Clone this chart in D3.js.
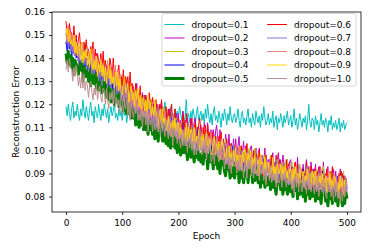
<!DOCTYPE html>
<html>
<head>
<meta charset="utf-8">
<script src="https://cdn.jsdelivr.net/npm/d3@7"></script>
<style>
  body { margin: 0; background: #fff; }
  svg text { font-family: "DejaVu Sans", sans-serif; font-size: 9px; fill: #000; }
</style>
</head>
<body>
<svg id="chart" width="373" height="250"></svg>
<script>
var epochs = [0,2,4,6,8,10,12,14,16,18,20,22,24,26,28,30,32,34,36,38,40,42,44,46,48,50,52,54,56,58,
  60,62,64,66,68,70,72,74,76,78,80,82,84,86,88,90,92,94,96,98,100,102,104,106,108,110,112,114,116,118,
  120,122,124,126,128,130,132,134,136,138,140,142,144,146,148,150,152,154,156,158,160,162,164,166,168,170,172,174,176,178,
  180,182,184,186,188,190,192,194,196,198,200,202,204,206,208,210,212,214,216,218,220,222,224,226,228,230,232,234,236,238,
  240,242,244,246,248,250,252,254,256,258,260,262,264,266,268,270,272,274,276,278,280,282,284,286,288,290,292,294,296,298,
  300,302,304,306,308,310,312,314,316,318,320,322,324,326,328,330,332,334,336,338,340,342,344,346,348,350,352,354,356,358,
  360,362,364,366,368,370,372,374,376,378,380,382,384,386,388,390,392,394,396,398,400,402,404,406,408,410,412,414,416,418,
  420,422,424,426,428,430,432,434,436,438,440,442,444,446,448,450,452,454,456,458,460,462,464,466,468,470,472,474,476,478,
  480,482,484,486,488,490,492,494,496,498,500]

var labels = ['dropout=0.1', 'dropout=0.2', 'dropout=0.3', 'dropout=0.4', 'dropout=0.5',
  'dropout=0.6', 'dropout=0.7', 'dropout=0.8', 'dropout=0.9', 'dropout=1.0']
var colors = ['#00bfbf', '#bf00bf', '#bfbf00', '#0000ff', '#008000',
  '#ff0000', '#9370db', '#f08080', '#ffd700', '#bc8f8f']

var xTicks = [0, 100, 200, 300, 400, 500]
var yTicks = [0.08, 0.09, 0.10, 0.11, 0.12, 0.13, 0.14, 0.15, 0.16]

// reconstruction error, every 2nd epoch, one array per dropout rate
var d01 = [0.119,0.115,0.120,0.116,0.113,0.118,0.121,0.114,0.117,0.115,
  0.120,0.116,0.113,0.118,0.115,0.122,0.117,0.114,0.119,0.116,
  0.113,0.118,0.121,0.115,0.117,0.112,0.119,0.116,0.114,0.120,
  0.116,0.113,0.118,0.115,0.120,0.117,0.114,0.118,0.112,0.116,
  0.119,0.115,0.117,0.121,0.114,0.116,0.113,0.118,0.115,0.117,
  0.113,0.119,0.115,0.117,0.112,0.116,0.120,0.114,0.118,0.115,
  0.117,0.113,0.116,0.119,0.114,0.121,0.115,0.117,0.112,0.116,
  0.119,0.114,0.116,0.113,0.118,0.115,0.120,0.116,0.113,0.117,
  0.115,0.118,0.112,0.116,0.119,0.114,0.117,0.115,0.121,0.116,
  0.113,0.117,0.115,0.119,0.114,0.116,0.112,0.118,0.115,0.117,
  0.114,0.119,0.116,0.113,0.117,0.112,0.115,0.122,0.114,0.116,
  0.112,0.117,0.114,0.118,0.115,0.111,0.116,0.119,0.113,0.115,
  0.117,0.113,0.116,0.112,0.118,0.114,0.120,0.115,0.112,0.116,
  0.111,0.116,0.119,0.113,0.115,0.112,0.117,0.114,0.110,0.116,
  0.113,0.118,0.115,0.111,0.116,0.113,0.119,0.114,0.112,0.115,
  0.116,0.112,0.114,0.118,0.113,0.110,0.115,0.117,0.112,0.114,
  0.111,0.115,0.118,0.112,0.114,0.110,0.116,0.113,0.111,0.117,
  0.114,0.112,0.115,0.110,0.116,0.113,0.119,0.114,0.111,0.113,
  0.116,0.111,0.114,0.112,0.117,0.110,0.113,0.115,0.109,0.114,
  0.112,0.116,0.113,0.110,0.115,0.112,0.114,0.117,0.111,0.113,
  0.115,0.110,0.113,0.118,0.111,0.114,0.109,0.112,0.116,0.113,
  0.110,0.114,0.112,0.115,0.109,0.113,0.120,0.112,0.110,0.114,
  0.113,0.109,0.115,0.111,0.113,0.108,0.112,0.116,0.111,0.113,
  0.110,0.114,0.112,0.108,0.113,0.111,0.115,0.109,0.112,0.110,
  0.113,0.109,0.111,0.114,0.108,0.112,0.110,0.113,0.109,0.111,0.112]
var d02 = [0.151,0.146,0.154,0.148,0.145,0.149,0.144,0.147,0.141,0.150,
  0.141,0.147,0.139,0.144,0.146,0.136,0.143,0.146,0.140,0.138,
  0.142,0.138,0.134,0.143,0.139,0.139,0.133,0.142,0.135,0.138,
  0.132,0.140,0.136,0.131,0.137,0.132,0.137,0.128,0.136,0.133,
  0.135,0.129,0.126,0.134,0.132,0.126,0.134,0.129,0.125,0.131,
  0.123,0.129,0.132,0.126,0.124,0.129,0.123,0.126,0.120,0.128,
  0.124,0.119,0.126,0.129,0.121,0.116,0.123,0.120,0.125,0.118,
  0.124,0.117,0.115,0.121,0.119,0.121,0.113,0.122,0.117,0.120,
  0.113,0.120,0.117,0.111,0.119,0.121,0.113,0.111,0.117,0.114,
  0.115,0.110,0.118,0.112,0.109,0.115,0.112,0.107,0.116,0.113,
  0.116,0.109,0.113,0.107,0.117,0.109,0.113,0.105,0.114,0.110,
  0.106,0.114,0.110,0.105,0.112,0.114,0.106,0.110,0.103,0.109,
  0.111,0.106,0.103,0.112,0.109,0.103,0.112,0.106,0.102,0.109,
  0.103,0.109,0.100,0.108,0.111,0.105,0.101,0.109,0.102,0.104,
  0.105,0.098,0.107,0.103,0.100,0.107,0.098,0.103,0.096,0.105,
  0.099,0.105,0.097,0.102,0.106,0.095,0.102,0.099,0.104,0.097,
  0.102,0.096,0.099,0.093,0.101,0.102,0.094,0.099,0.096,0.101,
  0.093,0.098,0.101,0.092,0.097,0.098,0.093,0.101,0.090,0.095,
  0.096,0.090,0.098,0.093,0.099,0.090,0.094,0.088,0.096,0.099,
  0.091,0.096,0.089,0.098,0.093,0.094,0.087,0.096,0.091,0.095,
  0.096,0.088,0.092,0.089,0.095,0.087,0.097,0.090,0.093,0.088,
  0.089,0.094,0.086,0.092,0.096,0.088,0.093,0.085,0.095,0.090,
  0.092,0.087,0.094,0.085,0.090,0.093,0.086,0.091,0.084,0.095,
  0.085,0.090,0.087,0.093,0.084,0.091,0.088,0.083,0.092,0.086,
  0.091,0.084,0.088,0.083,0.092,0.085,0.090,0.082,0.089,0.087,0.086]
var d03 = [0.146,0.152,0.147,0.151,0.144,0.147,0.142,0.150,0.143,0.145,
  0.145,0.140,0.137,0.144,0.146,0.139,0.143,0.136,0.141,0.137,
  0.135,0.139,0.142,0.136,0.133,0.139,0.136,0.132,0.140,0.135,
  0.136,0.130,0.137,0.133,0.139,0.129,0.133,0.127,0.134,0.136,
  0.129,0.133,0.126,0.134,0.128,0.129,0.123,0.131,0.126,0.133,
  0.129,0.123,0.127,0.121,0.130,0.122,0.126,0.120,0.129,0.123,
  0.118,0.124,0.127,0.120,0.122,0.123,0.115,0.121,0.124,0.117,
  0.119,0.115,0.122,0.113,0.120,0.116,0.122,0.113,0.119,0.115,
  0.119,0.113,0.110,0.118,0.116,0.110,0.116,0.119,0.111,0.114,
  0.109,0.117,0.111,0.114,0.107,0.115,0.109,0.112,0.107,0.114,
  0.111,0.105,0.112,0.107,0.114,0.105,0.108,0.112,0.103,0.109,
  0.105,0.111,0.102,0.108,0.110,0.105,0.111,0.103,0.108,0.102,
  0.108,0.102,0.107,0.101,0.110,0.105,0.102,0.108,0.099,0.104,
  0.099,0.104,0.107,0.101,0.105,0.097,0.105,0.101,0.107,0.099,
  0.102,0.097,0.105,0.099,0.096,0.102,0.097,0.100,0.094,0.103,
  0.096,0.102,0.094,0.100,0.098,0.102,0.094,0.100,0.096,0.092,
  0.100,0.096,0.092,0.101,0.098,0.093,0.098,0.092,0.101,0.096,
  0.092,0.099,0.096,0.091,0.098,0.096,0.089,0.098,0.093,0.092,
  0.094,0.091,0.098,0.090,0.095,0.088,0.095,0.091,0.096,0.087,
  0.096,0.089,0.091,0.095,0.087,0.093,0.089,0.096,0.087,0.092,
  0.088,0.095,0.087,0.091,0.093,0.086,0.092,0.089,0.094,0.085,
  0.092,0.085,0.091,0.088,0.094,0.086,0.090,0.093,0.084,0.091,
  0.087,0.091,0.084,0.092,0.086,0.089,0.083,0.091,0.086,0.093,
  0.089,0.084,0.092,0.083,0.088,0.085,0.091,0.086,0.090,0.082,
  0.083,0.088,0.085,0.090,0.082,0.089,0.084,0.091,0.083,0.087,0.085]
var d04 = [0.147,0.143,0.150,0.144,0.148,0.139,0.146,0.142,0.148,0.140,
  0.143,0.139,0.136,0.142,0.145,0.136,0.139,0.133,0.141,0.138,
  0.134,0.140,0.135,0.131,0.139,0.136,0.131,0.138,0.130,0.135,
  0.136,0.129,0.134,0.132,0.127,0.133,0.129,0.135,0.126,0.128,
  0.127,0.131,0.124,0.133,0.126,0.127,0.121,0.128,0.130,0.123,
  0.126,0.120,0.127,0.123,0.128,0.119,0.127,0.120,0.122,0.117,
  0.117,0.121,0.125,0.118,0.116,0.121,0.118,0.113,0.120,0.122,
  0.118,0.111,0.117,0.120,0.114,0.111,0.118,0.114,0.120,0.112,
  0.112,0.117,0.110,0.115,0.108,0.113,0.110,0.117,0.108,0.115,
  0.113,0.108,0.110,0.105,0.114,0.106,0.111,0.108,0.113,0.103,
  0.108,0.103,0.110,0.105,0.112,0.101,0.108,0.105,0.109,0.103,
  0.103,0.108,0.100,0.109,0.105,0.106,0.100,0.109,0.103,0.101,
  0.107,0.102,0.099,0.105,0.097,0.105,0.100,0.103,0.097,0.106,
  0.098,0.103,0.106,0.097,0.102,0.098,0.104,0.095,0.103,0.099,
  0.100,0.093,0.101,0.097,0.102,0.093,0.098,0.095,0.102,0.091,
  0.095,0.100,0.093,0.098,0.091,0.098,0.091,0.096,0.093,0.099,
  0.098,0.093,0.089,0.096,0.099,0.091,0.096,0.089,0.098,0.094,
  0.089,0.095,0.096,0.088,0.094,0.096,0.090,0.086,0.095,0.091,
  0.093,0.088,0.095,0.090,0.086,0.091,0.095,0.086,0.092,0.088,
  0.088,0.094,0.084,0.093,0.091,0.086,0.091,0.084,0.093,0.089,
  0.091,0.084,0.090,0.087,0.082,0.092,0.086,0.089,0.083,0.091,
  0.086,0.092,0.084,0.089,0.082,0.088,0.083,0.091,0.085,0.081,
  0.088,0.083,0.090,0.080,0.087,0.084,0.089,0.082,0.091,0.085,
  0.081,0.088,0.084,0.087,0.080,0.089,0.083,0.086,0.079,0.088,
  0.086,0.081,0.089,0.080,0.083,0.087,0.079,0.085,0.082,0.088,0.083]
var d05 = [0.142,0.138,0.143,0.137,0.141,0.136,0.140,0.133,0.139,0.137,
  0.137,0.133,0.138,0.135,0.139,0.130,0.136,0.134,0.132,0.137,
  0.130,0.135,0.128,0.133,0.134,0.129,0.133,0.127,0.132,0.126,
  0.131,0.127,0.125,0.130,0.126,0.130,0.123,0.127,0.122,0.128,
  0.121,0.126,0.125,0.120,0.127,0.121,0.124,0.119,0.125,0.120,
  0.122,0.117,0.124,0.119,0.116,0.121,0.116,0.119,0.114,0.120,
  0.114,0.118,0.111,0.117,0.115,0.110,0.117,0.111,0.114,0.109,
  0.114,0.109,0.112,0.107,0.113,0.109,0.113,0.107,0.112,0.105,
  0.106,0.110,0.104,0.111,0.107,0.109,0.104,0.111,0.105,0.103,
  0.108,0.102,0.106,0.101,0.107,0.102,0.108,0.101,0.105,0.099,
  0.101,0.105,0.098,0.104,0.099,0.104,0.099,0.102,0.096,0.103,
  0.102,0.097,0.103,0.099,0.095,0.100,0.097,0.103,0.096,0.098,
  0.095,0.099,0.094,0.101,0.097,0.099,0.092,0.098,0.095,0.100,
  0.097,0.092,0.098,0.094,0.099,0.092,0.096,0.090,0.097,0.094,
  0.095,0.091,0.089,0.094,0.092,0.095,0.088,0.093,0.089,0.094,
  0.088,0.093,0.090,0.094,0.086,0.091,0.088,0.093,0.086,0.090,
  0.089,0.092,0.086,0.093,0.090,0.093,0.086,0.090,0.087,0.092,
  0.090,0.086,0.091,0.084,0.089,0.086,0.091,0.084,0.089,0.085,
  0.086,0.089,0.083,0.088,0.084,0.089,0.084,0.081,0.088,0.086,
  0.088,0.083,0.086,0.081,0.087,0.083,0.088,0.081,0.086,0.084,
  0.082,0.086,0.080,0.085,0.083,0.087,0.079,0.084,0.081,0.086,
  0.084,0.080,0.085,0.078,0.083,0.081,0.086,0.079,0.084,0.080,
  0.081,0.084,0.078,0.083,0.079,0.085,0.080,0.077,0.084,0.082,
  0.083,0.078,0.081,0.076,0.082,0.079,0.084,0.077,0.082,0.080,
  0.078,0.082,0.076,0.081,0.079,0.083,0.076,0.080,0.077,0.082,0.079]
var d06 = [0.156,0.150,0.148,0.155,0.151,0.151,0.145,0.154,0.147,0.150,
  0.143,0.148,0.151,0.144,0.147,0.140,0.147,0.143,0.148,0.141,
  0.144,0.138,0.145,0.142,0.147,0.138,0.144,0.135,0.142,0.139,
  0.137,0.142,0.135,0.143,0.134,0.139,0.134,0.137,0.131,0.140,
  0.137,0.131,0.140,0.132,0.135,0.128,0.134,0.137,0.129,0.132,
  0.128,0.135,0.126,0.132,0.129,0.132,0.125,0.134,0.126,0.129,
  0.127,0.122,0.129,0.120,0.125,0.121,0.128,0.119,0.124,0.117,
  0.117,0.124,0.121,0.115,0.125,0.121,0.117,0.123,0.115,0.119,
  0.122,0.116,0.113,0.120,0.115,0.122,0.113,0.117,0.111,0.119,
  0.112,0.118,0.109,0.116,0.120,0.110,0.114,0.118,0.109,0.113,
  0.114,0.108,0.112,0.107,0.116,0.112,0.105,0.116,0.108,0.109,
  0.105,0.111,0.114,0.106,0.109,0.112,0.106,0.103,0.111,0.114,
  0.108,0.102,0.110,0.105,0.111,0.102,0.111,0.105,0.108,0.103,
  0.108,0.101,0.099,0.106,0.104,0.099,0.106,0.101,0.108,0.097,
  0.099,0.103,0.097,0.105,0.096,0.101,0.097,0.103,0.094,0.100,
  0.102,0.096,0.099,0.093,0.101,0.094,0.102,0.096,0.099,0.093,
  0.095,0.103,0.094,0.098,0.093,0.099,0.095,0.100,0.091,0.098,
  0.097,0.091,0.100,0.094,0.098,0.089,0.096,0.092,0.098,0.091,
  0.090,0.096,0.092,0.098,0.089,0.093,0.090,0.098,0.088,0.094,
  0.096,0.090,0.093,0.087,0.094,0.088,0.096,0.090,0.094,0.087,
  0.089,0.093,0.086,0.092,0.095,0.088,0.094,0.085,0.091,0.087,
  0.092,0.086,0.090,0.087,0.095,0.085,0.091,0.088,0.093,0.084,
  0.086,0.092,0.084,0.089,0.091,0.085,0.093,0.087,0.090,0.084,
  0.089,0.084,0.092,0.086,0.083,0.090,0.085,0.093,0.084,0.088,
  0.083,0.088,0.085,0.090,0.082,0.091,0.084,0.089,0.081,0.087,0.087]
var d07 = [0.146,0.150,0.144,0.149,0.143,0.148,0.142,0.145,0.141,0.147,
  0.143,0.137,0.145,0.140,0.138,0.142,0.137,0.144,0.135,0.139,
  0.134,0.138,0.140,0.133,0.139,0.133,0.139,0.134,0.138,0.130,
  0.137,0.131,0.128,0.134,0.136,0.130,0.133,0.127,0.136,0.128,
  0.127,0.132,0.130,0.125,0.134,0.124,0.128,0.125,0.131,0.122,
  0.126,0.121,0.128,0.123,0.129,0.118,0.125,0.122,0.126,0.120,
  0.118,0.123,0.116,0.125,0.122,0.122,0.115,0.121,0.118,0.124,
  0.119,0.114,0.118,0.112,0.121,0.114,0.119,0.112,0.118,0.115,
  0.110,0.117,0.119,0.112,0.113,0.115,0.108,0.114,0.117,0.110,
  0.112,0.109,0.107,0.114,0.108,0.115,0.109,0.112,0.105,0.113,
  0.106,0.112,0.105,0.109,0.103,0.109,0.103,0.110,0.106,0.112,
  0.109,0.105,0.102,0.111,0.104,0.102,0.106,0.100,0.107,0.109,
  0.100,0.106,0.105,0.101,0.107,0.098,0.107,0.101,0.104,0.102,
  0.105,0.099,0.107,0.101,0.098,0.103,0.099,0.096,0.105,0.101,
  0.098,0.103,0.096,0.101,0.094,0.101,0.094,0.099,0.096,0.103,
  0.099,0.095,0.092,0.100,0.098,0.093,0.100,0.095,0.098,0.092,
  0.093,0.098,0.100,0.092,0.097,0.094,0.098,0.090,0.097,0.093,
  0.097,0.093,0.090,0.096,0.091,0.097,0.091,0.094,0.088,0.096,
  0.090,0.096,0.089,0.093,0.087,0.093,0.087,0.096,0.090,0.088,
  0.092,0.088,0.094,0.089,0.095,0.086,0.092,0.089,0.093,0.085,
  0.086,0.091,0.084,0.093,0.089,0.091,0.086,0.093,0.087,0.090,
  0.091,0.084,0.089,0.086,0.093,0.085,0.090,0.083,0.091,0.087,
  0.086,0.090,0.083,0.089,0.084,0.091,0.085,0.088,0.082,0.089,
  0.088,0.081,0.089,0.085,0.090,0.083,0.087,0.082,0.089,0.084,
  0.083,0.088,0.081,0.086,0.084,0.089,0.082,0.087,0.080,0.088,0.084]
var d08 = [0.153,0.148,0.154,0.147,0.151,0.146,0.149,0.143,0.150,0.145,
  0.142,0.147,0.140,0.146,0.143,0.146,0.139,0.143,0.140,0.145,
  0.142,0.137,0.141,0.135,0.144,0.136,0.141,0.134,0.140,0.137,
  0.133,0.140,0.135,0.138,0.132,0.137,0.132,0.139,0.131,0.135,
  0.133,0.129,0.135,0.130,0.137,0.126,0.132,0.129,0.133,0.127,
  0.128,0.123,0.121,0.129,0.124,0.125,0.120,0.124,0.118,0.126,
  0.119,0.125,0.118,0.122,0.116,0.122,0.118,0.123,0.115,0.121,
  0.121,0.114,0.119,0.116,0.113,0.117,0.114,0.121,0.113,0.119,
  0.113,0.117,0.109,0.116,0.118,0.110,0.114,0.111,0.117,0.109,
  0.113,0.107,0.114,0.109,0.112,0.115,0.107,0.109,0.112,0.105,
  0.105,0.110,0.112,0.104,0.109,0.105,0.110,0.102,0.108,0.111,
  0.109,0.105,0.102,0.108,0.103,0.109,0.103,0.106,0.100,0.107,
  0.102,0.108,0.101,0.105,0.099,0.105,0.099,0.106,0.102,0.108,
  0.103,0.099,0.105,0.100,0.106,0.097,0.103,0.100,0.104,0.096,
  0.096,0.101,0.094,0.103,0.099,0.100,0.095,0.102,0.096,0.099,
  0.100,0.093,0.098,0.095,0.102,0.093,0.098,0.091,0.099,0.095,
  0.095,0.099,0.092,0.098,0.093,0.099,0.093,0.096,0.090,0.097,
  0.096,0.089,0.097,0.093,0.098,0.090,0.094,0.089,0.096,0.091,
  0.090,0.095,0.088,0.093,0.091,0.095,0.088,0.093,0.086,0.094,
  0.094,0.089,0.095,0.088,0.092,0.089,0.092,0.086,0.093,0.088,
  0.087,0.092,0.085,0.091,0.088,0.093,0.086,0.090,0.087,0.092,
  0.090,0.085,0.089,0.083,0.092,0.086,0.091,0.084,0.090,0.087,
  0.084,0.091,0.086,0.089,0.083,0.090,0.085,0.092,0.084,0.088,
  0.087,0.083,0.089,0.084,0.091,0.082,0.088,0.085,0.089,0.083,
  0.088,0.083,0.081,0.089,0.084,0.087,0.082,0.086,0.080,0.088,0.084]
var d09 = [0.150,0.153,0.147,0.152,0.146,0.148,0.145,0.150,0.142,0.147,
  0.141,0.146,0.144,0.139,0.147,0.138,0.143,0.140,0.144,0.137,
  0.142,0.136,0.144,0.138,0.135,0.139,0.135,0.141,0.132,0.138,
  0.134,0.139,0.132,0.137,0.130,0.136,0.129,0.134,0.137,0.131,
  0.135,0.129,0.132,0.127,0.134,0.128,0.134,0.126,0.131,0.125,
  0.124,0.129,0.132,0.125,0.126,0.129,0.121,0.126,0.128,0.122,
  0.125,0.119,0.126,0.122,0.127,0.119,0.124,0.116,0.122,0.123,
  0.117,0.122,0.115,0.124,0.118,0.121,0.115,0.119,0.114,0.122,
  0.117,0.113,0.110,0.116,0.118,0.110,0.118,0.111,0.114,0.109,
  0.109,0.115,0.108,0.112,0.106,0.113,0.109,0.114,0.106,0.112,
  0.112,0.105,0.110,0.107,0.104,0.108,0.105,0.112,0.104,0.110,
  0.105,0.109,0.101,0.108,0.110,0.102,0.106,0.103,0.109,0.101,
  0.106,0.100,0.107,0.102,0.105,0.108,0.100,0.102,0.105,0.098,
  0.099,0.104,0.106,0.098,0.103,0.099,0.104,0.096,0.102,0.105,
  0.102,0.098,0.095,0.101,0.096,0.102,0.096,0.099,0.093,0.100,
  0.095,0.101,0.094,0.098,0.092,0.098,0.092,0.099,0.095,0.101,
  0.097,0.093,0.099,0.094,0.100,0.091,0.097,0.094,0.098,0.090,
  0.091,0.096,0.089,0.098,0.094,0.095,0.090,0.097,0.091,0.094,
  0.095,0.088,0.093,0.090,0.097,0.088,0.093,0.086,0.094,0.090,
  0.090,0.094,0.087,0.093,0.088,0.094,0.088,0.091,0.085,0.092,
  0.091,0.084,0.092,0.088,0.093,0.086,0.090,0.085,0.092,0.087,
  0.086,0.091,0.084,0.089,0.087,0.092,0.085,0.090,0.083,0.091,
  0.090,0.085,0.091,0.084,0.088,0.086,0.089,0.083,0.090,0.085,
  0.084,0.089,0.082,0.088,0.085,0.090,0.083,0.087,0.084,0.089,
  0.087,0.082,0.086,0.080,0.089,0.083,0.088,0.081,0.087,0.084,0.085]
var d10 = [0.135,0.139,0.134,0.140,0.136,0.135,0.130,0.136,0.132,0.137,
  0.133,0.128,0.132,0.127,0.134,0.127,0.133,0.126,0.130,0.128,
  0.123,0.128,0.130,0.125,0.122,0.127,0.124,0.129,0.122,0.126,
  0.128,0.123,0.121,0.127,0.126,0.120,0.127,0.122,0.118,0.125,
  0.122,0.126,0.120,0.127,0.119,0.123,0.119,0.122,0.116,0.124,
  0.122,0.116,0.121,0.118,0.124,0.115,0.121,0.113,0.120,0.117,
  0.114,0.119,0.116,0.121,0.113,0.116,0.113,0.118,0.110,0.117,
  0.116,0.111,0.117,0.108,0.114,0.111,0.114,0.108,0.115,0.109,
  0.109,0.115,0.108,0.112,0.106,0.113,0.109,0.112,0.106,0.114,
  0.109,0.105,0.112,0.106,0.110,0.102,0.110,0.106,0.109,0.103,
  0.108,0.104,0.101,0.107,0.102,0.108,0.102,0.105,0.099,0.106,
  0.101,0.107,0.100,0.104,0.098,0.104,0.098,0.105,0.101,0.107,
  0.102,0.098,0.104,0.099,0.105,0.096,0.102,0.099,0.103,0.095,
  0.096,0.101,0.094,0.103,0.099,0.100,0.095,0.102,0.096,0.099,
  0.099,0.092,0.097,0.094,0.101,0.092,0.097,0.090,0.098,0.094,
  0.093,0.097,0.090,0.096,0.091,0.097,0.091,0.094,0.088,0.095,
  0.095,0.088,0.096,0.092,0.097,0.089,0.093,0.088,0.095,0.090,
  0.089,0.094,0.087,0.092,0.090,0.094,0.087,0.092,0.085,0.093,
  0.092,0.087,0.093,0.086,0.090,0.087,0.090,0.084,0.091,0.086,
  0.086,0.091,0.084,0.090,0.087,0.091,0.084,0.088,0.085,0.090,
  0.088,0.083,0.087,0.081,0.090,0.084,0.089,0.082,0.088,0.085,
  0.082,0.089,0.084,0.087,0.081,0.088,0.083,0.090,0.082,0.086,
  0.085,0.081,0.087,0.082,0.089,0.080,0.086,0.083,0.087,0.081,
  0.086,0.081,0.079,0.087,0.082,0.085,0.080,0.084,0.078,0.086,
  0.080,0.086,0.079,0.083,0.077,0.084,0.078,0.085,0.081,0.087,0.082]

var series = [d01, d02, d03, d04, d05, d06, d07, d08, d09, d10]
var widths = [1, 1, 1, 1, 3, 1, 1, 1, 1, 1]

var svg = d3.select('#chart')

var x = d3.scaleLinear()
  .domain([-25, 525])
  .range([52, 361])
var y = d3.scaleLinear()
  .domain([0.0733, 0.16])
  .range([212, 12])

var line = d3.line()
  .x(function (d, i) { return x(epochs[i]) })
  .y(function (d) { return y(d) })

svg.append('g')
  .selectAll('path')
  .data(series)
  .enter().append('path')
  .attr('d', line)
  .attr('fill', 'none')
  .attr('stroke', function (d, i) { return colors[i] })
  .attr('stroke-width', function (d, i) { return widths[i] })
  .attr('stroke-linejoin', 'round')

// frame
svg.append('rect')
  .attr('x', 52).attr('y', 12)
  .attr('width', 309).attr('height', 200)
  .attr('fill', 'none')
  .attr('stroke', '#000')
  .attr('stroke-width', 0.8)

svg.append('g')
  .attr('transform', 'translate(0,212)')
  .call(d3.axisBottom(x).tickValues(xTicks).tickSize(3).tickPadding(5))
svg.append('g')
  .attr('transform', 'translate(52,0)')
  .call(d3.axisLeft(y).tickValues(yTicks).tickSize(3).tickPadding(4).tickFormat(d3.format('.2f')))

svg.selectAll('.domain').remove()
svg.selectAll('.tick line').attr('stroke', '#000').attr('stroke-width', 0.8)
svg.selectAll('.tick text').attr('font-size', 9).attr('font-family', '"DejaVu Sans", sans-serif').attr('fill', '#000')

svg.append('text')
  .attr('x', 206.5).attr('y', 238.5)
  .attr('text-anchor', 'middle')
  .text('Epoch')
svg.append('text')
  .attr('transform', 'translate(19,112) rotate(-90)')
  .attr('text-anchor', 'middle')
  .text('Reconstruction Error')

// legend
var legend = svg.append('g')
legend.append('rect')
  .attr('x', 162).attr('y', 13.5)
  .attr('width', 194).attr('height', 72.5)
  .attr('rx', 2)
  .attr('fill', '#fff').attr('fill-opacity', 0.8)
  .attr('stroke', '#ccc').attr('stroke-width', 0.8)

var items = legend.selectAll('.item')
  .data(labels)
  .enter().append('g')
  .attr('class', 'item')
  .attr('transform', function (d, i) {
    var col = Math.floor(i / 5)
    var row = i % 5
    return 'translate(' + (164.5 + col * 102.5) + ',' + (24.5 + row * 13.5) + ')'
  })
items.append('line')
  .attr('x1', 0).attr('x2', 20)
  .attr('stroke', function (d, i) { return colors[i] })
  .attr('stroke-width', function (d, i) { return widths[i] })
items.append('text')
  .attr('x', 27).attr('dy', '0.35em')
  .text(function (d) { return d })
</script>
</body>
</html>
